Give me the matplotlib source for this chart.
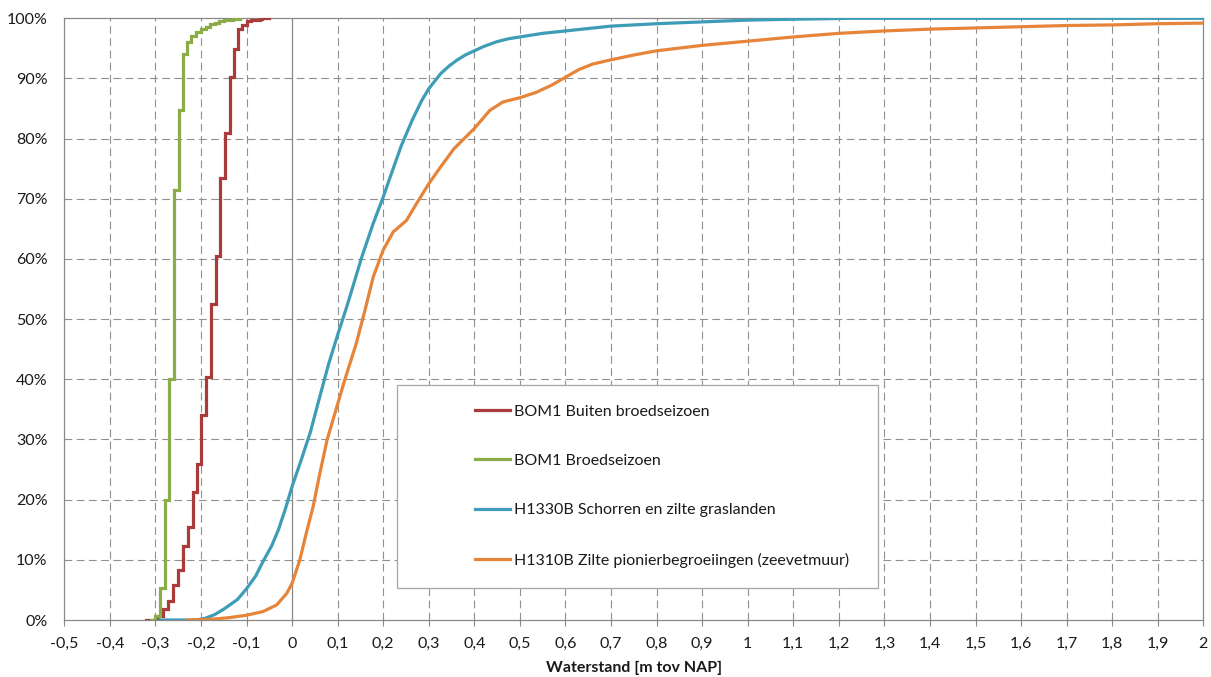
import matplotlib
matplotlib.use("Agg")
import matplotlib.pyplot as plt
from matplotlib.patches import Rectangle
from matplotlib.ticker import FuncFormatter
import numpy as np

plt.rcParams['font.family'] = ['Lato', 'DejaVu Sans']

# ---- data (water level [m NAP], cumulative %) ----
red_label = "BOM1 Buiten broedseizoen"
red_x = [-0.32, -0.294, -0.283, -0.272, -0.261, -0.250, -0.239, -0.228, -0.217, -0.208,
         -0.200, -0.189, -0.179, -0.168, -0.159, -0.148, -0.137, -0.128, -0.118, -0.109,
         -0.100, -0.09, -0.08, -0.07, -0.065, -0.05]
red_y = [0, 0.6, 1.9, 3.1, 5.8, 8.3, 12.3, 15.5, 21.2, 25.9,
         34.0, 40.4, 52.5, 60.5, 73.5, 81.0, 90.3, 94.9, 98.2, 98.9,
         99.5, 99.7, 99.8, 99.9, 100, 100]

green_label = "BOM1 Broedseizoen"
green_x = [-0.31, -0.300, -0.289, -0.280, -0.270, -0.260, -0.249, -0.240, -0.231, -0.221,
           -0.210, -0.199, -0.19, -0.18, -0.17, -0.16, -0.15, -0.14, -0.13, -0.115]
green_y = [0, 0.7, 5.3, 20.0, 40.0, 71.4, 84.7, 94.1, 96.1, 97.0,
           97.7, 98.2, 98.6, 99.0, 99.3, 99.5, 99.7, 99.8, 99.9, 100]

teal_label = "H1330B Schorren en zilte graslanden"
teal_x = [-0.29, -0.21, -0.19, -0.17, -0.15, -0.12, -0.10, -0.08, -0.064, -0.045,
          -0.03, -0.015, 0.0, 0.02, 0.04, 0.06, 0.08, 0.10, 0.118, 0.127,
          0.152, 0.178, 0.2, 0.218, 0.24, 0.265, 0.285, 0.3, 0.326, 0.345,
          0.361, 0.38, 0.4, 0.42, 0.449, 0.475, 0.5, 0.55, 0.6, 0.65,
          0.7, 0.8, 0.9, 1.0, 1.1, 1.23, 2.0]
teal_y = [0, 0, 0.3, 0.9, 1.8, 3.4, 5.2, 7.3, 9.7, 12.3,
          15.0, 18.4, 22.2, 26.6, 31.2, 36.9, 42.5, 47.4, 51.6, 53.8,
          60.1, 65.9, 70.3, 74.2, 78.9, 83.3, 86.4, 88.3, 90.8, 92.1,
          93.0, 93.9, 94.6, 95.3, 96.1, 96.6, 96.9, 97.5, 97.9, 98.3,
          98.7, 99.1, 99.4, 99.7, 99.85, 100, 100]

orange_label = "H1310B Zilte pionierbegroeiingen (zeevetmuur)"
orange_x = [-0.23, -0.18, -0.137, -0.1, -0.064, -0.034, -0.012, 0.0, 0.017, 0.031,
            0.046, 0.061, 0.077, 0.1, 0.116, 0.141, 0.16, 0.178, 0.2, 0.222,
            0.251, 0.273, 0.3, 0.326, 0.355, 0.4, 0.434, 0.463, 0.5, 0.536,
            0.57, 0.6, 0.63, 0.66, 0.7, 0.75, 0.8, 0.9, 1.0, 1.1, 1.2,
            1.3, 1.4, 1.5, 1.6, 1.7, 1.8, 1.9, 2.0]
orange_y = [0, 0.1, 0.4, 0.8, 1.4, 2.5, 4.4, 6.1, 10.0, 14.4,
            18.8, 24.4, 30.0, 35.9, 40.0, 46.0, 51.5, 57.0, 61.5, 64.5,
            66.4, 69.2, 72.5, 75.3, 78.3, 81.7, 84.7, 86.1, 86.8, 87.7,
            88.9, 90.2, 91.5, 92.4, 93.1, 93.9, 94.6, 95.5, 96.2, 96.9, 97.5,
            97.9, 98.2, 98.4, 98.6, 98.8, 98.9, 99.1, 99.2]

x_ticks = np.round(np.arange(-0.5, 2.0001, 0.1), 1)
y_ticks = np.arange(0, 101, 10)

c_red = '#AB3B3B'
c_green = '#8BAD48'
c_teal = '#3D9DB6'
c_orange = '#E6843A'
c_axis = '#888888'
c_grid = '#909090'
c_text = '#1a1a1a'
fs = 11.5

fig = plt.figure(figsize=(12.11, 6.77), dpi=100)
ax = fig.add_axes([64.3 / 1211, 57 / 677, 1139 / 1211, 601.7 / 677])

ax.set_xlim(-0.5, 2.0)
ax.set_ylim(0, 100)

# grid
for xv in x_ticks[1:-1]:
    if abs(xv) > 1e-9:
        ax.axvline(xv, color=c_grid, lw=0.8, ls=(0, (7, 4)), zorder=1)
for yv in y_ticks[1:-1]:
    ax.axhline(yv, color=c_grid, lw=0.8, ls=(0, (7, 4)), zorder=1)
ax.axvline(0, color=c_axis, lw=0.9, zorder=1.5)

lw = 2.3
ax.plot(red_x, red_y, drawstyle='steps-post', color=c_red, lw=lw, label=red_label, zorder=3,
        solid_joinstyle='miter')
ax.plot(green_x, green_y, drawstyle='steps-post', color=c_green, lw=lw, label=green_label, zorder=3,
        solid_joinstyle='miter')
ax.plot(teal_x, teal_y, color=c_teal, lw=lw, label=teal_label, zorder=3, solid_joinstyle='round')
ax.plot(orange_x, orange_y, color=c_orange, lw=lw, label=orange_label, zorder=3,
        solid_joinstyle='round')

# legend box
box = Rectangle((0.292, 0.0532), 0.7144 - 0.292, 0.3906 - 0.0532, transform=ax.transAxes,
                facecolor='white', edgecolor='#A6A6A6', lw=0.9, zorder=4)
ax.add_patch(box)
leg = ax.legend(loc='center left', bbox_to_anchor=(0.3606, 0.2227), frameon=False,
                fontsize=fs, handlelength=2.2, handletextpad=0.25, labelspacing=2.2,
                borderpad=0, borderaxespad=0, labelcolor=c_text)
leg.set_zorder(5)

ax.set_xticks(x_ticks)
ax.set_yticks(y_ticks)


def fmt_x(v, pos):
    v = round(v, 1)
    if abs(v - round(v)) < 1e-9:
        return "%d" % round(v)
    return ("%.1f" % v).replace('.', ',')


ax.xaxis.set_major_formatter(FuncFormatter(fmt_x))
ax.yaxis.set_major_formatter(FuncFormatter(lambda v, p: "%d%%" % v))

ax.tick_params(axis='x', direction='out', length=4, width=0.8, color=c_axis,
               labelsize=fs, pad=8, labelcolor=c_text)
ax.tick_params(axis='y', length=0, labelsize=fs, pad=12, labelcolor=c_text)

for s in ax.spines.values():
    s.set_color(c_axis)
    s.set_linewidth(0.9)

ax.set_xlabel("Waterstand [m tov NAP]", fontsize=fs, fontweight='bold', color=c_text,
              labelpad=7)

fig.savefig('out.png', dpi=100)
